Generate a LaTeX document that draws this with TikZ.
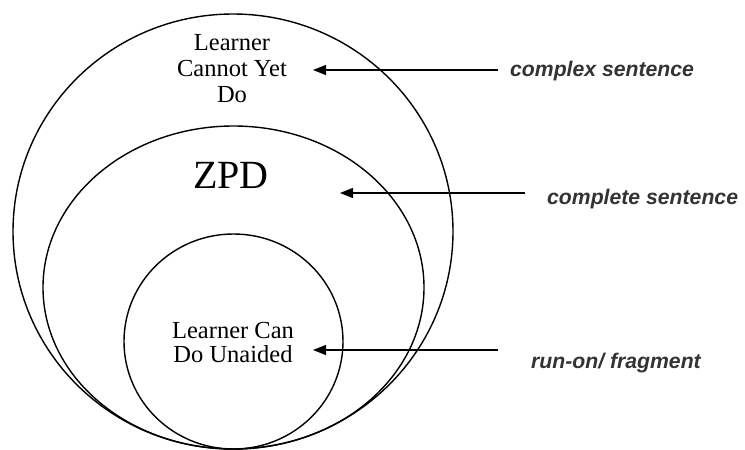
\documentclass[tikz,border=0pt]{standalone}
\usepackage{fontspec}
\setmainfont{Liberation Serif}
\newfontfamily\labfont{Liberation Sans}
\usetikzlibrary{arrows.meta}
\tikzset{
  ring/.style={line width=1.4pt, draw=black},
  pointer/.style={line width=1.4pt, -{Triangle[length=13pt,width=10pt]}},
  circtext/.style={font=\fontsize{24.5}{26}\selectfont, inner sep=0pt, anchor=base},
  zpdtext/.style={font=\fontsize{40}{42}\selectfont, inner sep=0pt, anchor=base},
  labtext/.style={font=\labfont\bfseries\itshape\fontsize{21.2}{24}\selectfont, text=black!80, inner sep=0pt, anchor=base west}
}
\begin{document}
\begin{tikzpicture}[x=1pt,y=-1pt]
\useasboundingbox (0,0) rectangle (745,450);
% circles
\draw[ring] (233,231.5) ellipse [x radius=220pt, y radius=217.5pt];
\draw[ring] (233.5,287.5) ellipse [x radius=190.5pt, y radius=161.5pt];
\draw[ring] (233.5,341.5) ellipse [x radius=109.5pt, y radius=107.5pt];
% circle texts
\node[circtext] (t1a) at (232,50) {Learner};
\node[circtext] (t1b) at (232,76) {Cannot Yet};
\node[circtext] (t1c) at (232,102) {Do};
\node[zpdtext] (zpd) at (231,188) {ZPD};
\node[circtext] (t3a) at (233,338) {Learner Can};
\node[circtext] (t3b) at (233,362.5) {Do Unaided};
% labels
\node[labtext] (l1) at (510,76) {complex sentence};
\node[labtext] (l2) at (547,204) {complete sentence};
\node[labtext] (l3) at (531,368) {run-on/ fragment};
% arrows
\coordinate (a1s) at (498,70);
\coordinate (a1e) at (313,70);
\coordinate (a2s) at (525,193);
\coordinate (a2e) at (340,193);
\coordinate (a3s) at (498,350);
\coordinate (a3e) at (313,350);
\draw[pointer] (a1s) -- (a1e);
\draw[pointer] (a2s) -- (a2e);
\draw[pointer] (a3s) -- (a3e);
\end{tikzpicture}
\end{document}
